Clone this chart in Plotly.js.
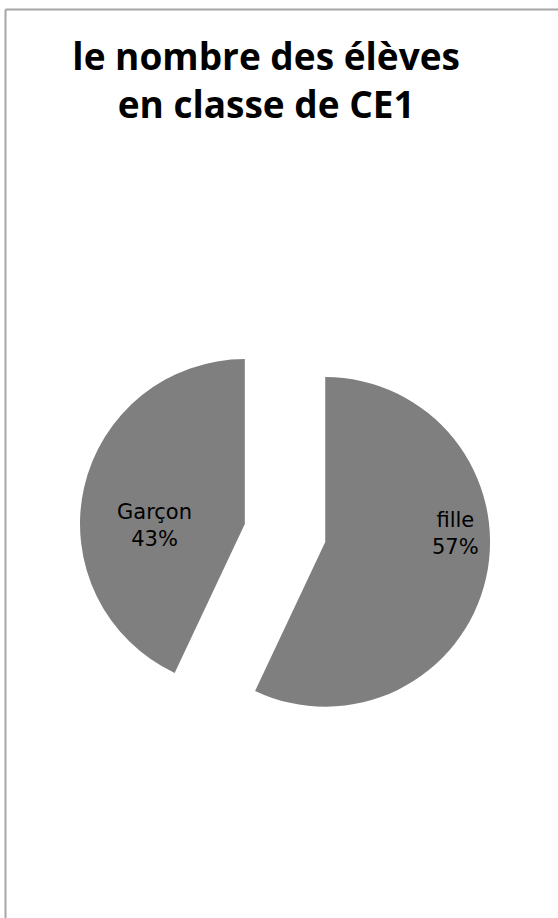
<!DOCTYPE html>
<html>
<head>
<meta charset="utf-8">
<script src="https://cdn.plot.ly/plotly-3.0.1.min.js"></script>
<style>
  html, body { margin: 0; padding: 0; background: #ffffff; }
  #chart { width: 558px; height: 918px; }
</style>
</head>
<body>
<div id="chart"></div>
<script>
// Data
const categories = ["fille", "Garçon"];
const shares = [57, 43];
const sliceColors = ["#7f7f7f", "#7f7f7f"];
const titleLines = ["le nombre des élèves", "en classe de CE1"];

const total = shares.reduce((a, b) => a + b, 0);
const labelTexts = categories.map((c, i) => c + "<br>" + Math.round(100 * shares[i] / total) + "%");

const trace = {
  type: "pie",
  labels: categories,
  values: shares,
  sort: false,
  direction: "clockwise",
  rotation: 0,
  pull: [0.25, 0.25],
  marker: { colors: sliceColors, line: { width: 0 } },
  textinfo: "none",
  hoverinfo: "label+percent",
  showlegend: false,
  domain: { x: [0.1416, 0.88], y: [0.195, 0.644] }
};

// label placement (layout positions, paper coordinates)
const labelPos = [
  { x: 455 / 558, y: 1 - 533 / 918 },
  { x: 154 / 558, y: 1 - 525 / 918 }
];

const layout = {
  width: 558,
  height: 918,
  margin: { l: 0, r: 0, t: 0, b: 0 },
  paper_bgcolor: "#ffffff",
  plot_bgcolor: "#ffffff",
  title: {
    text: titleLines.join("<br>"),
    font: { family: "Open Sans", size: 37, color: "#000000", weight: "bold" },
    x: 0.477,
    xanchor: "center",
    xref: "container",
    yref: "container",
    y: 1 - 70 / 918,
    yanchor: "middle"
  },
  annotations: labelTexts.map((t, i) => ({
    text: t,
    xref: "paper", yref: "paper",
    x: labelPos[i].x, y: labelPos[i].y,
    xanchor: "center", yanchor: "middle",
    showarrow: false,
    font: { family: "DejaVu Sans", size: 21, color: "#000000" }
  })),
  shapes: [
    { type: "line", xref: "paper", yref: "paper", x0: 5.5/558, x1: 5.5/558, y0: 0, y1: 1 - 9.5/918,
      line: { color: "#a6a6a6", width: 2 } },
    { type: "line", xref: "paper", yref: "paper", x0: 5.5/558, x1: 1, y0: 1 - 9.5/918, y1: 1 - 9.5/918,
      line: { color: "#a6a6a6", width: 2 } }
  ]
};

Plotly.newPlot("chart", [trace], layout, { displayModeBar: false, staticPlot: true });
</script>
</body>
</html>
